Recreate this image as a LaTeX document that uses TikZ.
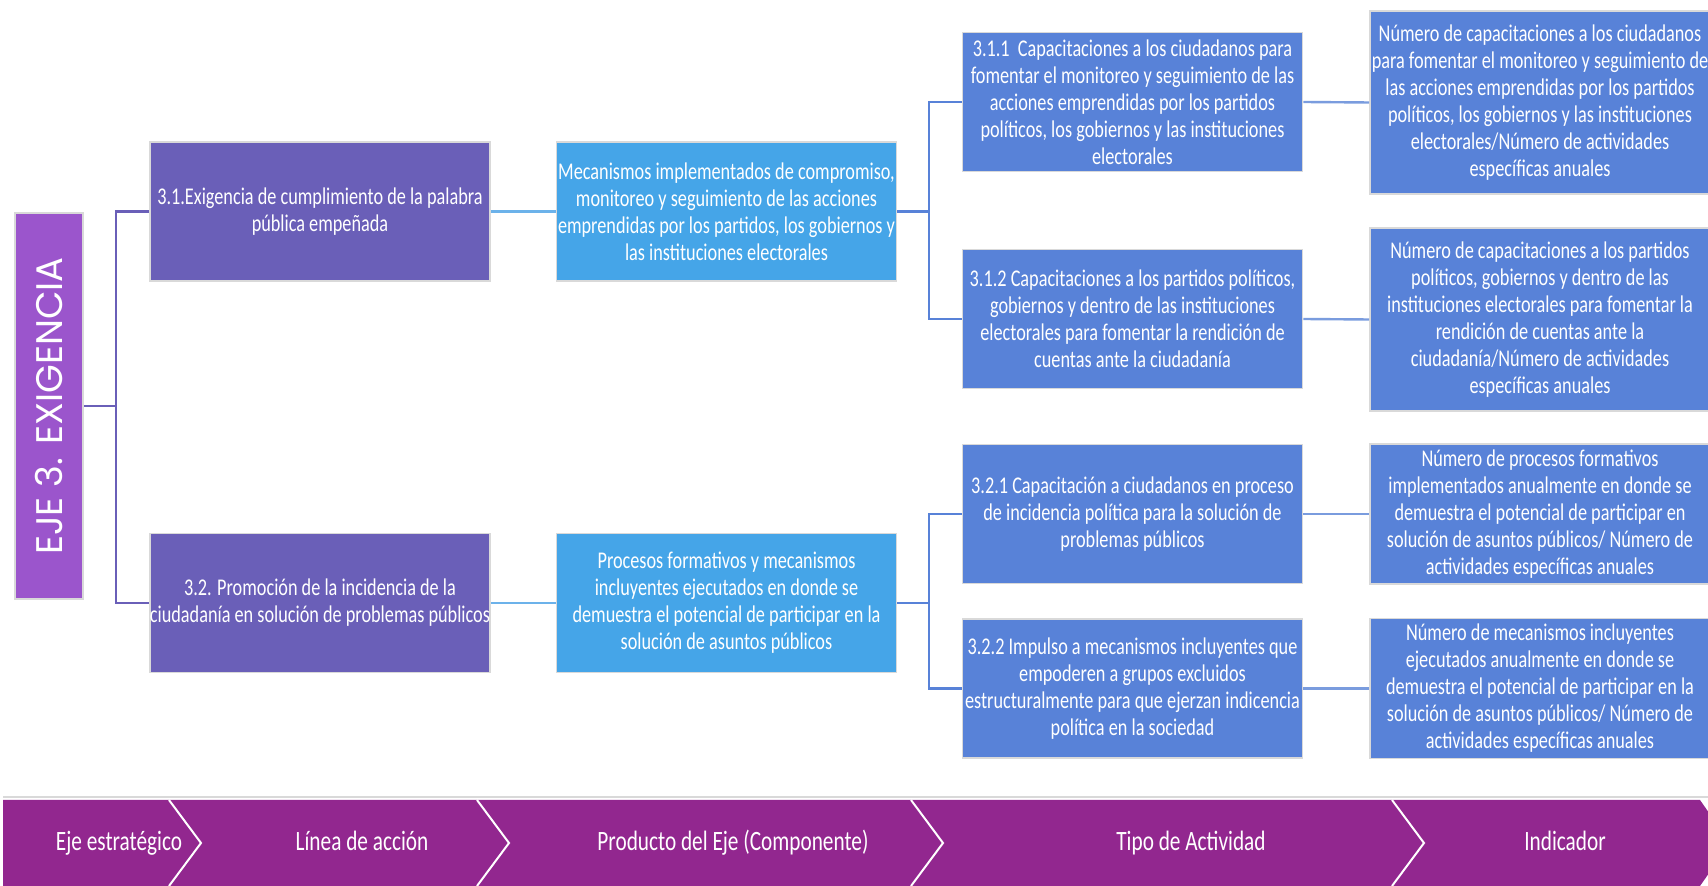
\documentclass[tikz,border=0pt]{standalone}
\usepackage{fontspec}
\setmainfont{Carlito}[FakeStretch=0.76]
\newfontfamily\ejefont{Poppins}
\usetikzlibrary{calc}

\definecolor{ejepurple}{HTML}{9B55CC}
\definecolor{lineapurple}{HTML}{6A5FB8}
\definecolor{prodblue}{HTML}{45A5E8}
\definecolor{actblue}{HTML}{5882D8}
\definecolor{barpurple}{HTML}{92278F}
\definecolor{linkblue}{HTML}{6CB2EA}
\definecolor{indblue}{HTML}{7A9CDE}

\tikzset{
    box/.style={draw=black!15, line width=0.8pt, text=white, align=center,
        inner sep=0pt, minimum width=170pt, font=\fontsize{12}{13.5}\selectfont},
    lineabox/.style={box, fill=lineapurple, minimum height=69.5pt},
    prodbox/.style={box, fill=prodblue, minimum height=69.5pt},
    actbox/.style={box, fill=actblue, minimum height=69.5pt},
    indbox/.style={box, fill=actblue, minimum height=70pt},
    barlabel/.style={text=white, text height=10pt, text depth=3pt,
        font=\fontsize{14}{16}\selectfont},
}

\begin{document}
\begin{tikzpicture}[x=0.5pt, y=-0.5pt]
    \useasboundingbox (0,0) rectangle (1708,886);

    % eje
    \node[draw=black!15, line width=0.8pt, fill=ejepurple, inner sep=0pt,
        minimum width=34pt, minimum height=193pt] (eje) at (49,406) {};
    \node[rotate=90, text=white, font=\ejefont\fontsize{18.5}{20}\selectfont] (ejetext) at (eje.center) {EJE 3. EXIGENCIA};

    % lineas de accion
    \node[lineabox] (l31) at (320,211.5) {3.1.Exigencia de cumplimiento de la palabra\\ pública empeñada};
    \node[lineabox] (l32) at (320,603) {3.2. Promoción de la incidencia de la\\ ciudadanía en solución de problemas públicos};

    % productos
    \node[prodbox] (prod1) at (726.5,211.5) {Mecanismos implementados de compromiso,\\ monitoreo y seguimiento de las acciones\\ emprendidas por los partidos, los gobiernos y\\ las instituciones electorales};
    \node[prodbox] (prod2) at (726.5,603) {Procesos formativos y mecanismos\\ incluyentes ejecutados en donde se\\ demuestra el potencial de participar en la\\ solución de asuntos públicos};

    % actividades
    \node[actbox] (a311) at (1132.5,102) {3.1.1\ \ Capacitaciones a los ciudadanos para\\ fomentar el monitoreo y seguimiento de las\\ acciones emprendidas por los partidos\\ políticos, los gobiernos y las instituciones\\ electorales};
    \node[actbox] (a312) at (1132.5,319) {3.1.2 Capacitaciones a los partidos políticos,\\ gobiernos y dentro de las instituciones\\ electorales para fomentar\ la rendición de\\ cuentas ante la ciudadanía};
    \node[actbox] (a321) at (1132.5,514) {3.2.1 Capacitación a ciudadanos en proceso\\ de incidencia política para la solución de\\ problemas públicos};
    \node[actbox] (a322) at (1132.5,688.5) {3.2.2 Impulso a mecanismos incluyentes que\\ empoderen a grupos excluidos\\ estructuralmente para que ejerzan indicencia\\ política en la sociedad};

    % indicadores
    \node[indbox, minimum height=91.5pt] (i1) at (1540,102.5) {Número de capacitaciones a los ciudadanos\\ para fomentar el monitoreo y seguimiento de\\ las acciones emprendidas por los partidos\\ políticos, los gobiernos y las instituciones\\ electorales/Número de actividades\\ específicas anuales};
    \node[indbox, minimum height=91.5pt] (i2) at (1540,319.5) {Número de capacitaciones a los partidos\\ políticos, gobiernos y dentro de las\\ instituciones electorales para fomentar la\\ rendición de cuentas ante la\\ ciudadanía/Número de actividades\\ específicas anuales};
    \node[indbox] (i3) at (1540,514) {Número de procesos formativos\\ implementados anualmente en donde se\\ demuestra el potencial de participar en\\ solución de asuntos públicos/ Número de\\ actividades específicas anuales};
    \node[indbox] (i4) at (1540,688.5) {Número de mecanismos incluyentes\\ ejecutados anualmente en donde se\\ demuestra el potencial de participar en la\\ solución de asuntos públicos/ Número de\\ actividades específicas anuales};

    % conectores
    \coordinate (forkL) at (116,406);
    \coordinate (forkA) at (929,211.5);
    \coordinate (forkB) at (929,603);

    \draw[lineapurple, line width=1.2pt] (eje.east) -- (forkL);
    \draw[lineapurple, line width=1.2pt] (l31.west) -| (forkL) |- (l32.west);
    \draw[linkblue, line width=1.2pt] (l31.east) -- (prod1.west);
    \draw[linkblue, line width=1.2pt] (l32.east) -- (prod2.west);
    \draw[actblue, line width=1.2pt] (prod1.east) -- (forkA);
    \draw[actblue, line width=1.2pt] (a311.west) -| (forkA) |- (a312.west);
    \draw[actblue, line width=1.2pt] (prod2.east) -- (forkB);
    \draw[actblue, line width=1.2pt] (a321.west) -| (forkB) |- (a322.west);
    \draw[indblue, line width=1.2pt] (a311.east) -- (i1.west);
    \draw[indblue, line width=1.2pt] (a312.east) -- (i2.west);
    \draw[indblue, line width=1.2pt] (a321.east) -- (i3.west);
    \draw[indblue, line width=1.2pt] (a322.east) -- (i4.west);

    % barra inferior
    \draw[black!15, line width=0.8pt] (3,797) -- (1708,797);
    \fill[barpurple] (3,800) -- (1700,800) -- (1730,843) -- (1700,886) -- (3,886) -- cycle;
    \foreach \x in {169,477,911,1392}
        \draw[white, line width=1pt] (\x,800) -- (\x+32,843) -- (\x,886);

    \node[barlabel] (b1) at (119,843) {Eje estratégico};
    \node[barlabel] (b2) at (362,843) {Línea de acción};
    \node[barlabel] (b3) at (733,843) {Producto del Eje (Componente)};
    \node[barlabel] (b4) at (1191,843) {Tipo de Actividad};
    \node[barlabel] (b5) at (1565,843) {Indicador};
\end{tikzpicture}
\end{document}
